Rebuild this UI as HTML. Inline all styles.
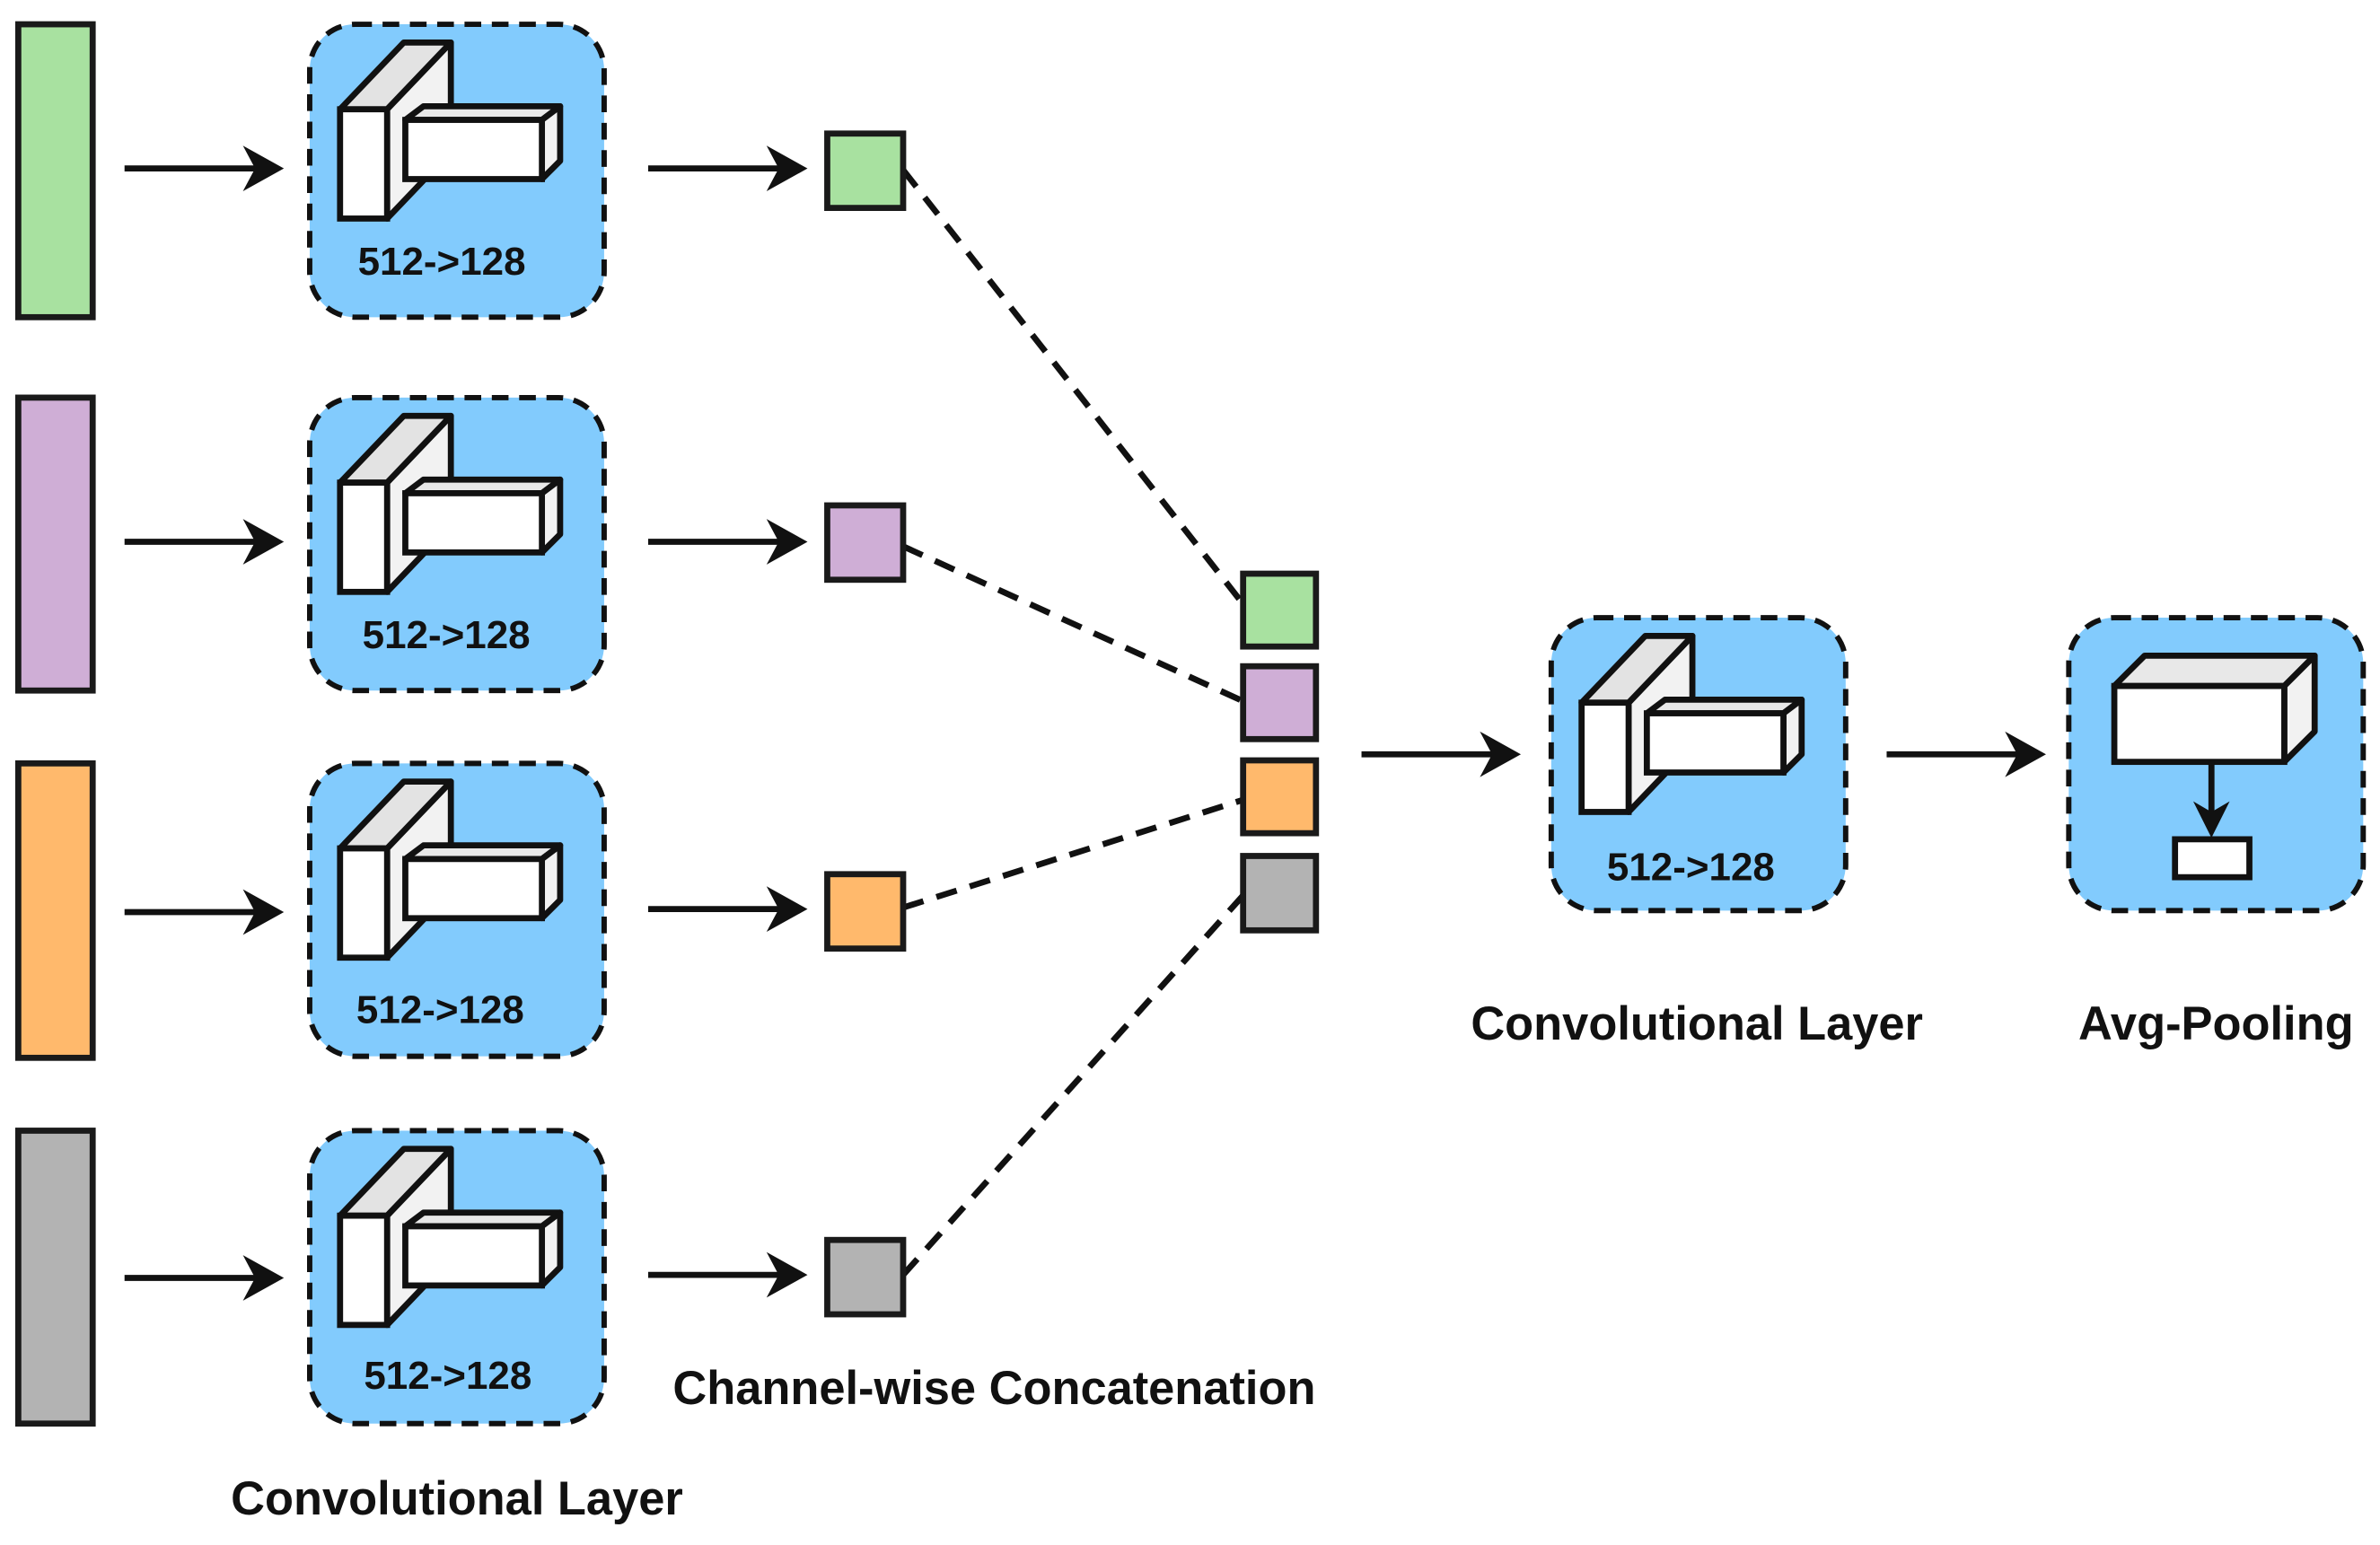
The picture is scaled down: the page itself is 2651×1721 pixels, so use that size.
<!DOCTYPE html>
<html><head><meta charset="utf-8"><style>
html,body{margin:0;padding:0;background:#fff}
svg{display:block}
text{font-family:"Liberation Sans",Arial,sans-serif;font-weight:bold;fill:#111}
</style></head><body>
<svg width="2651" height="1721" viewBox="0 0 1568 1018" xmlns="http://www.w3.org/2000/svg">
<defs>
<g id="conv">
 <rect x="0" y="0" width="194" height="193" rx="30" fill="#82cbfd" stroke="#111" stroke-width="3.5" stroke-dasharray="11,7"/>
 <polygon points="51,56 93,12 93,84 51,128" fill="#f2f2f2" stroke="#111" stroke-width="4" stroke-linejoin="round"/>
 <polygon points="20,56 62,12 93,12 51,56" fill="#e3e3e3" stroke="#111" stroke-width="4" stroke-linejoin="round"/>
 <rect x="20" y="56" width="31" height="72" fill="#fff" stroke="#111" stroke-width="4"/>
 <polygon points="63,63 75,54 165,54 153,63" fill="#e8e8e8" stroke="#111" stroke-width="4" stroke-linejoin="round"/>
 <polygon points="153,63 165,54 165,90 153,102" fill="#f2f2f2" stroke="#111" stroke-width="4" stroke-linejoin="round"/>
 <rect x="63" y="63" width="90" height="39" fill="#fff" stroke="#111" stroke-width="4"/>
</g>
<g id="arr">
 <line x1="0" y1="0" x2="90" y2="0" stroke="#111" stroke-width="4"/>
 <polygon points="105,0 78,-15 86,0 78,15" fill="#111"/>
</g>
</defs>
<rect x="12" y="16" width="49" height="193" fill="#a8e1a0" stroke="#1a1a1a" stroke-width="4"/>
<rect x="12" y="262" width="49" height="193" fill="#cfaed6" stroke="#1a1a1a" stroke-width="4"/>
<rect x="12" y="503" width="49" height="194" fill="#ffb96c" stroke="#1a1a1a" stroke-width="4"/>
<rect x="12" y="745" width="49" height="193" fill="#b3b3b3" stroke="#1a1a1a" stroke-width="4"/>
<use href="#conv" x="204" y="16"/>
<use href="#conv" x="204" y="262"/>
<use href="#conv" x="204" y="503"/>
<use href="#conv" x="204" y="745"/>
<use href="#conv" x="1022" y="407"/>
<text x="291" y="181" font-size="26" text-anchor="middle">512-&gt;128</text>
<text x="294" y="427" font-size="26" text-anchor="middle">512-&gt;128</text>
<text x="290" y="674" font-size="26" text-anchor="middle">512-&gt;128</text>
<text x="295" y="915" font-size="26" text-anchor="middle">512-&gt;128</text>
<text x="1114" y="580" font-size="26" text-anchor="middle">512-&gt;128</text>
<use href="#arr" x="82" y="111"/>
<use href="#arr" x="82" y="357"/>
<use href="#arr" x="82" y="601"/>
<use href="#arr" x="82" y="842"/>
<use href="#arr" x="427" y="111"/>
<use href="#arr" x="427" y="357"/>
<use href="#arr" x="427" y="599"/>
<use href="#arr" x="427" y="840"/>
<use href="#arr" x="897" y="497"/>
<use href="#arr" x="1243" y="497"/>
<g stroke="#111" stroke-width="4" stroke-dasharray="14,9">
<line x1="595" y1="112" x2="819" y2="398"/>
<line x1="595" y1="360" x2="819" y2="462"/>
<line x1="595" y1="598" x2="819" y2="527"/>
<line x1="595" y1="840" x2="819" y2="590"/>
</g>
<rect x="545" y="88" width="50" height="49" fill="#a8e1a0" stroke="#1a1a1a" stroke-width="4"/>
<rect x="545" y="333" width="50" height="49" fill="#cfaed6" stroke="#1a1a1a" stroke-width="4"/>
<rect x="545" y="576" width="50" height="49" fill="#ffb96c" stroke="#1a1a1a" stroke-width="4"/>
<rect x="545" y="817" width="50" height="49" fill="#b3b3b3" stroke="#1a1a1a" stroke-width="4"/>
<rect x="819" y="378" width="48" height="48" fill="#a8e1a0" stroke="#1a1a1a" stroke-width="4"/>
<rect x="819" y="439" width="48" height="48" fill="#cfaed6" stroke="#1a1a1a" stroke-width="4"/>
<rect x="819" y="501" width="48" height="48" fill="#ffb96c" stroke="#1a1a1a" stroke-width="4"/>
<rect x="819" y="564" width="48" height="49" fill="#b3b3b3" stroke="#1a1a1a" stroke-width="4"/>
<rect x="1363" y="407" width="194" height="193" rx="30" fill="#82cbfd" stroke="#111" stroke-width="3.5" stroke-dasharray="11,7"/>
<polygon points="1393,452 1413,432 1525,432 1505,452" fill="#e8e8e8" stroke="#111" stroke-width="4" stroke-linejoin="round"/>
<polygon points="1505,452 1525,432 1525,482 1505,502" fill="#f2f2f2" stroke="#111" stroke-width="4" stroke-linejoin="round"/>
<rect x="1393" y="452" width="112" height="50" fill="#fff" stroke="#111" stroke-width="4"/>
<line x1="1457" y1="502" x2="1457" y2="538" stroke="#111" stroke-width="4"/>
<polygon points="1457,552 1445,528 1457,535 1469,528" fill="#111"/>
<rect x="1433" y="553" width="49" height="25" fill="#fff" stroke="#111" stroke-width="4"/>
<text x="301" y="998" font-size="31" text-anchor="middle">Convolutional Layer</text>
<text x="655" y="925" font-size="31" text-anchor="middle">Channel-wise Concatenation</text>
<text x="1118" y="685" font-size="31" text-anchor="middle">Convolutional Layer</text>
<text x="1460" y="685" font-size="31" text-anchor="middle">Avg-Pooling</text>
</svg>
</body></html>
